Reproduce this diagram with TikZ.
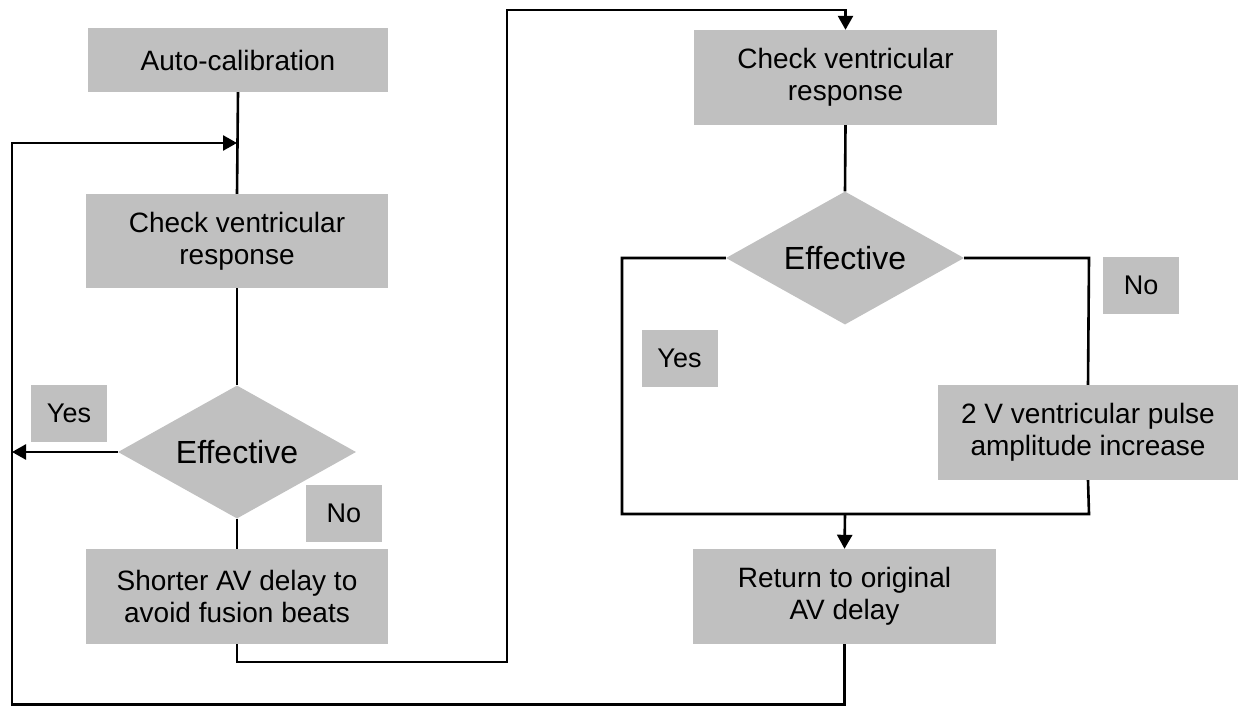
\documentclass[tikz,border=0pt]{standalone}
\usepackage{fontspec}
\setmainfont{Liberation Sans}
\usetikzlibrary{arrows.meta,shapes.geometric}
\definecolor{boxgray}{HTML}{C0C0C0}
\tikzset{
  box/.style={rectangle, fill=boxgray, draw=none, align=center, inner sep=0pt,
    font=\fontsize{28}{32}\selectfont},
  lbl/.style={rectangle, fill=boxgray, draw=none, inner sep=0pt,
    minimum width=76pt, minimum height=57pt, font=\fontsize{27}{30}\selectfont},
  dec/.style={diamond, fill=boxgray, draw=none, inner sep=0pt, aspect=1.79,
    minimum width=238pt, minimum height=133pt, font=\fontsize{32}{36}\selectfont},
  conn/.style={line width=2.6pt, draw=black},
  arr/.style={conn, -{Triangle[length=14pt,width=15pt]}}
}
\begin{document}
\begin{tikzpicture}[x=1pt,y=-1pt]
\useasboundingbox[fill=white] (0,0) rectangle (1238,706);
% left column
\node[box, minimum width=300pt, minimum height=64pt] (auto) at (238,60) {Auto-calibration};
\node[box, minimum width=302pt, minimum height=94pt] (chk1) at (237,241) {Check ventricular\\response};
\node[dec] (d1) at (237,452) {Effective};
\node[lbl] (yes1) at (69,413.5) {Yes};
\node[lbl] (no1) at (344,513) {No};
\node[box, minimum width=302pt, minimum height=95pt] (short) at (237,596.5) {Shorter AV delay to\\avoid fusion beats};
% right column
\node[box, minimum width=303pt, minimum height=95pt] (chk2) at (845.5,77.5) {Check ventricular\\response};
\node[dec] (d2) at (845,258) {Effective};
\node[lbl] (no2) at (1141,285.5) {No};
\node[lbl] (yes2) at (679.5,358.5) {Yes};
\node[box, minimum width=300pt, minimum height=95pt] (pulse) at (1088,432.5) {2 V ventricular pulse\\amplitude increase};
\node[box, minimum width=303pt, minimum height=95pt] (ret) at (844.5,596.5) {Return to original\\AV delay};
% helper coordinates
\coordinate (J1) at (237,143);
\coordinate (LT) at (12,143);
\coordinate (LB) at (12,704.5);
\coordinate (S1) at (237,662);
\coordinate (S2) at (507,662);
\coordinate (S3) at (507,10);
\coordinate (YL) at (622,258);
\coordinate (YB) at (622,514);
\coordinate (NR) at (1089,258);
\coordinate (NB) at (1089,514);
\coordinate (MJ) at (845,514);
% connectors
\draw[conn] (auto.south) -- (chk1.north);
\draw[conn] (chk1.south) -- (d1.north);
\draw[conn] (d1.south) -- (short.north);
\draw[arr] (ret.south) -- (ret.south |- LB) -- (LB) -- (LT) -- (J1);
\draw[arr] (d1.west) -- (d1.west -| LB);
\draw[arr] (short.south) -- (S1) -- (S2) -- (S3) -- (S3 -| chk2.north) -- (chk2.north);
\draw[conn] (chk2.south) -- (d2.north);
\draw[conn] (d2.west) -- (YL) -- (YB) -- (NB) -- (pulse.south);
\draw[conn] (d2.east) -- (NR) -- (pulse.north);
\draw[arr] (MJ) -- (ret.north);
\end{tikzpicture}
\end{document}
